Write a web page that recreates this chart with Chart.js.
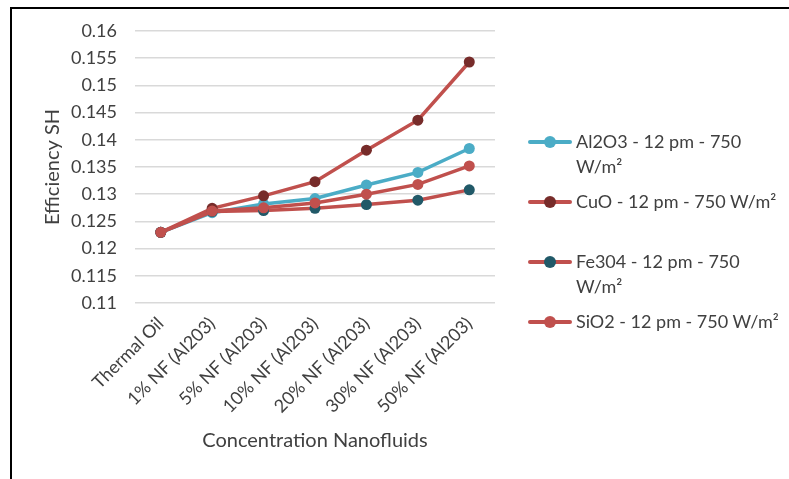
<!DOCTYPE html>
<html>
<head>
<meta charset="utf-8">
<script src="https://cdn.jsdelivr.net/npm/chart.js@4.4.1/dist/chart.umd.min.js"></script>
<style>
  html, body { margin: 0; padding: 0; background: #fff; }
  #wrap { position: relative; width: 789px; height: 479px; overflow: hidden; }
  #frame { position: absolute; left: 10px; top: 7px; right: -10px; bottom: -10px;
           border-top: 2px solid #000; border-left: 2px solid #000; pointer-events: none; }
  #legend { position: absolute; left: 528px; top: 129px; font-family: Lato, sans-serif;
            font-size: 18px; color: #404040; line-height: 25px; }
  .item { display: flex; align-items: flex-start; height: 60px; }
  .sw { position: relative; width: 44px; height: 25px; flex: none; margin-right: 4px; }
  .sw .ln { position: absolute; left: 0; right: 0; top: 11px; height: 4px; border-radius: 2px; }
  .sw .dot { position: absolute; left: 16px; top: 7px; width: 12px; height: 12px; border-radius: 50%; }
  .txt { width: 211px; }
</style>
</head>
<body>
<div id="wrap">
  <canvas id="myChart" width="789" height="479"></canvas>
  <div id="frame"></div>
  <div id="legend"></div>
</div>
<script>
const categories = ['Thermal Oil', '1% NF (Al203)', '5% NF (Al203)', '10% NF (Al203)',
  '20% NF (Al203)', '30% NF (Al203)', '50% NF (Al203)'];
const al2o3 = [0.123, 0.1266, 0.1282, 0.1292, 0.1317, 0.1340, 0.1384];
const cuo   = [0.123, 0.1274, 0.1297, 0.1323, 0.1381, 0.1436, 0.1543];
const fe3o4 = [0.123, 0.1268, 0.1270, 0.1274, 0.1281, 0.1289, 0.1308];
const sio2  = [0.123, 0.1269, 0.1275, 0.1284, 0.1300, 0.1318, 0.1352];
const yTicks = [0.11, 0.115, 0.12, 0.125, 0.13, 0.135, 0.14, 0.145, 0.15, 0.155, 0.16];

const ctx = document.getElementById('myChart');
Chart.defaults.font.family = 'Lato, sans-serif';
Chart.defaults.color = '#404040';

function series(label, data, line, dot, order) {
  return {
    label: label,
    data: data,
    borderColor: line,
    backgroundColor: dot,
    pointBackgroundColor: dot,
    pointBorderColor: dot,
    pointRadius: 5.5,
    pointBorderWidth: 0,
    borderWidth: 3.5,
    tension: 0,
    order: order
  };
}

const chart = new Chart(ctx, {
  type: 'line',
  data: {
    labels: categories,
    datasets: [
      series('Al2O3 - 12 pm - 750 W/m²', al2o3, '#4BACC6', '#4BACC6', 4),
      series('CuO - 12 pm - 750 W/m²', cuo, '#C0504D', '#772C2A', 3),
      series('Fe304 - 12 pm - 750 W/m²', fe3o4, '#C0504D', '#215968', 2),
      series('SiO2 - 12 pm - 750 W/m²', sio2, '#C0504D', '#C0504D', 1)
    ]
  },
  options: {
    responsive: false,
    animation: false,
    layout: { padding: { left: 11, top: 31, right: 294, bottom: 0 } },
    plugins: { legend: { display: false }, tooltip: { enabled: false } },
    scales: {
      x: {
        offset: true,
        grid: { display: false, drawTicks: false },
        border: { display: false },
        ticks: { font: { size: 18 }, minRotation: 45, maxRotation: 45, padding: 10 },
        title: { display: true, text: 'Concentration Nanofluids', font: { size: 20 }, padding: { top: 0, bottom: 26 } },
        afterFit: function (axis) { axis.height = 176; }
      },
      y: {
        min: 0.11,
        max: 0.16,
        grid: { color: '#D9D9D9', lineWidth: 1.5, drawTicks: false },
        border: { display: false },
        afterBuildTicks: function (axis) { axis.ticks = yTicks.map(v => ({ value: v })); },
        ticks: {
          font: { size: 18 },
          padding: 18,
          callback: function (v) { return String(+v.toFixed(3)); }
        },
        title: { display: true, text: 'Efficiency SH', font: { size: 20 }, padding: { top: 30, bottom: 0 } },
        afterFit: function (axis) { axis.width = 124; }
      }
    }
  }
});

const legend = document.getElementById('legend');
chart.data.datasets.forEach(function (ds) {
  const item = document.createElement('div');
  item.className = 'item';
  item.innerHTML = '<div class="sw"><div class="ln" style="background:' + ds.borderColor +
    '"></div><div class="dot" style="background:' + ds.pointBackgroundColor +
    '"></div></div><div class="txt"></div>';
  item.querySelector('.txt').textContent = ds.label;
  legend.appendChild(item);
});
</script>
</body>
</html>
